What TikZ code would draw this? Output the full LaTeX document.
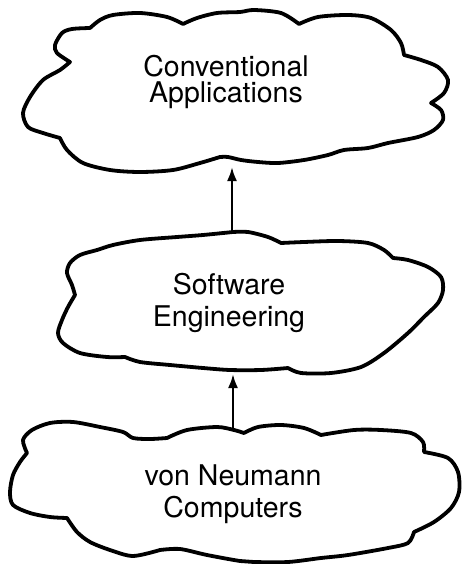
\documentclass[tikz,border=0pt]{standalone}
\usepackage{fontspec}
\setmainfont{TeX Gyre Heros}
\usetikzlibrary{arrows.meta}
\begin{document}
\begin{tikzpicture}[x=1pt, y=-1pt,
  cloudstyle/.style={draw, line width=3.8pt, line join=round, line cap=round},
  textstyle/.style={align=center, inner sep=0pt, font=\fontsize{28.5}{32}\selectfont},
  arrowstyle/.style={line width=2.4pt, -{Latex[length=14pt, width=10pt]}}]
\useasboundingbox (0,0) rectangle (461,564);

\draw[cloudstyle] plot[smooth] coordinates {(70,62) (57,53) (55,45) (62,33) (72,29) (90,28)}
  -- plot[smooth] coordinates {(90,28) (100,20) (113,15) (140,13) (167,17) (183,24)}
  -- plot[smooth] coordinates {(183,24) (197,18) (217,13) (240,12) (254,10) (281,13) (299,24)}
  -- plot[smooth] coordinates {(299,24) (318,17) (348,15) (371,18) (391,30) (401,43) (404,55)}
  -- plot[smooth] coordinates {(404,55) (421,60) (438,67) (448,80) (444,93) (431,103)}
  -- plot[smooth] coordinates {(431,103) (441,110) (443,120) (434,130) (418,137) (388,143) (368,148) (344,150) (328,155) (304,160) (278,163) (258,162) (241,160) (228,157) (220,157)}
  -- plot[smooth] coordinates {(220,157) (200,163) (173,170) (140,172) (110,170) (83,163) (67,150) (60,138)}
  -- plot[smooth] coordinates {(60,138) (43,133) (28,127) (23,113) (30,97) (43,80) (60,70) (70,62)} -- cycle;

\draw[cloudstyle] plot[smooth] coordinates {(233,232) (203,235) (177,237) (140,240) (113,245) (97,250) (80,255) (70,263) (67,273) (72,285) (75,295)}
  -- plot[smooth] coordinates {(75,295) (68,307) (62,320) (58,333) (63,343) (80,353) (107,357) (125,357)}
  -- plot[smooth] coordinates {(125,357) (140,362) (170,365) (203,368) (230,370) (261,370) (288,368)}
  -- plot[smooth] coordinates {(288,368) (301,373) (331,373) (361,367) (384,353) (408,333) (424,317) (438,303) (443,290) (441,277) (428,267) (408,260) (393,258)}
  -- plot[smooth] coordinates {(393,258) (384,250) (368,243) (338,241) (304,242) (281,243)}
  -- plot[smooth] coordinates {(281,243) (268,237) (248,232) (233,232)} -- cycle;

\draw[cloudstyle] plot[smooth] coordinates {(244,433) (234,430) (217,427) (187,430) (167,438)}
  -- plot[smooth] coordinates {(167,438) (150,439) (133,438) (123,432) (100,427) (73,422) (50,423) (32,430) (23,440) (27,453)}
  -- plot[smooth] coordinates {(27,453) (20,462) (13,475) (10,492) (13,505) (30,513) (50,517) (67,518)}
  -- plot[smooth] coordinates {(67,518) (77,532) (90,542) (110,550) (133,556) (160,550)}
  -- plot[smooth] coordinates {(160,550) (180,549) (207,555) (240,561) (254,562) (288,562) (321,558) (348,555) (388,548) (408,543) (414,532)}
  -- plot[smooth] coordinates {(414,532) (434,522) (451,508) (459,492) (458,472) (448,458) (424,452)}
  -- plot[smooth] coordinates {(424,452) (423,442) (411,433) (381,430) (354,430) (321,435)}
  -- plot[smooth] coordinates {(321,435) (304,428) (281,425) (258,427) (244,433)} -- cycle;

\node[textstyle, font=\fontsize{28.5}{26}\selectfont] (apps) at (226,82) {Conventional\\Applications};
\node[textstyle] (soft) at (229,303) {Software\\Engineering};
\node[textstyle] (vonn) at (233,494) {von Neumann\\Computers};

\coordinate (appsbot) at (232,167);
\coordinate (softtop) at (232,232);
\coordinate (softbot) at (233,374);
\coordinate (vonntop) at (233,429);

\draw[arrowstyle] (softtop) -- (appsbot);
\draw[arrowstyle] (vonntop) -- (softbot);
\end{tikzpicture}
\end{document}
